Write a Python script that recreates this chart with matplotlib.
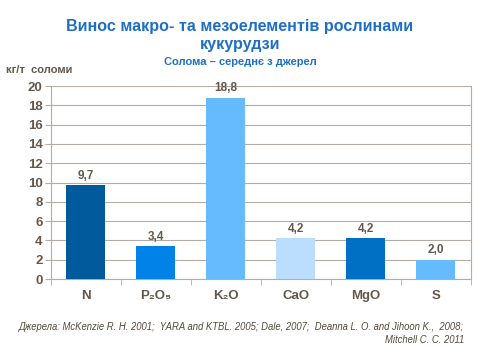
import numpy as np
import matplotlib.pyplot as plt

plt.rcParams['font.family'] = ['Liberation Sans', 'DejaVu Sans']

# data
elements = ['N', 'P₂O₅', 'K₂O', 'CaO', 'MgO', 'S']
values = [9.7, 3.4, 18.8, 4.2, 4.2, 2.0]
colors = ['#005A9C', '#0082E6', '#66BBFF', '#BBDEFF', '#0070C4', '#66BBFF']

txt = '#65584A'
grid = '#B5ADA3'

fig = plt.figure(figsize=(4.8, 3.6), dpi=100)
ax = fig.add_axes([0.106, 0.225, 0.875, 0.536])

x = np.arange(len(values))
ax.bar(x, values, width=0.56, color=colors, zorder=3)
for xi, v in zip(x, values):
    ax.text(xi, v + 0.35, '{:.1f}'.format(v).replace('.', ','), ha='center', va='bottom',
            fontsize=8.5, fontweight='bold', color=txt)

ax.set_xlim(-0.5, len(values) - 0.5)
ax.set_ylim(0, 20)
ax.set_yticks(range(0, 21, 2))
ax.yaxis.grid(True, color=grid, linewidth=0.8, zorder=0)
ax.set_xticks(x)
ax.set_xticklabels(elements)
ax.set_xticks(np.arange(-0.5, len(values), 1), minor=True)
ax.tick_params(axis='x', which='major', length=0, pad=8, labelsize=9.5, labelcolor=txt)
ax.tick_params(axis='x', which='minor', length=4, color=grid)
ax.tick_params(axis='y', length=4, color=grid, labelsize=9.5, labelcolor=txt, pad=2)
for t in ax.get_xticklabels() + ax.get_yticklabels():
    t.set_fontweight('bold')
ax.spines['top'].set_visible(False)
for s in ['left', 'right', 'bottom']:
    ax.spines[s].set_color(grid)

fig.text(0.5, 0.927, 'Винос макро- та мезоелементів рослинами', ha='center', va='center',
         fontsize=11.6, fontweight='bold', color='#1F6FC4')
fig.text(0.5, 0.877, 'кукурудзи', ha='center', va='center',
         fontsize=11.6, fontweight='bold', color='#1F6FC4')
fig.text(0.5, 0.828, 'Солома – середнє з джерел', ha='center', va='center',
         fontsize=8, fontweight='bold', color='#1F6FC4')
fig.text(0.013, 0.805, 'кг/т  соломи', ha='left', va='center',
         fontsize=8, fontweight='bold', color=txt)
fig.text(0.967, 0.092, 'Джерела: McKenzie R. H. 2001;  YARA and KTBL. 2005; Dale, 2007;  Deanna L. O. and Jihoon K.,  2008;',
         ha='right', va='center', fontsize=6.85, style='italic', color='#55493C')
fig.text(0.967, 0.055, 'Mitchell C. C. 2011', ha='right', va='center',
         fontsize=6.85, style='italic', color='#55493C')

plt.savefig('out.png')
